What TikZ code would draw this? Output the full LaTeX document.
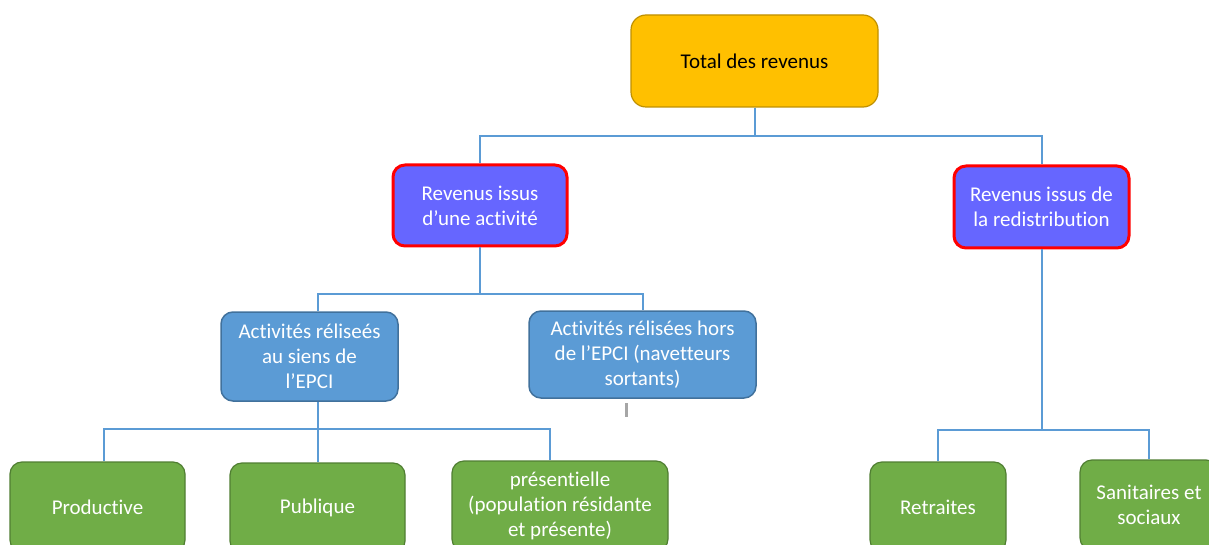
\documentclass[tikz,border=0pt]{standalone}
\usepackage{fontspec}
\setmainfont[Ligatures=NoCommon]{Carlito}
\definecolor{yfill}{HTML}{FFC000}
\definecolor{ydraw}{HTML}{BF9000}
\definecolor{pfill}{HTML}{6666FF}
\definecolor{pdraw}{HTML}{FF0000}
\definecolor{bfill}{HTML}{5B9BD5}
\definecolor{bdraw}{HTML}{41719C}
\definecolor{gfill}{HTML}{70AD47}
\definecolor{gdraw}{HTML}{507E32}
\definecolor{conncol}{HTML}{5B9BD5}
\definecolor{markcol}{HTML}{A6A6A6}
\begin{document}
\begin{tikzpicture}[x=1pt,y=-1pt,
  every node/.style={font=\fontsize{21}{25}\selectfont, align=center, inner sep=0pt},
  totbox/.style={draw=ydraw, fill=yfill, line width=1.2pt, rounded corners=15pt, text=black},
  redbox/.style={draw=pdraw, fill=pfill, line width=3pt, rounded corners=12pt, text=white},
  bluebox/.style={draw=bdraw, fill=bfill, line width=1.5pt, rounded corners=12pt, text=white},
  greenbox/.style={draw=gdraw, fill=gfill, line width=1.2pt, rounded corners=12pt, text=white},
  conn/.style={draw=conncol, line width=2pt}]
\useasboundingbox (0,0) rectangle (1209,545);
\clip (0,0) rectangle (1209,545);

\node[totbox, minimum width=247pt, minimum height=92pt] (tot) at (754.5,61) {Total des revenus};
\node[redbox, minimum width=174pt, minimum height=81pt] (act) at (480,205.5) {Revenus issus\\d’une activité};
\node[redbox, minimum width=175pt, minimum height=82pt] (red) at (1041.5,207) {Revenus issus de\\la redistribution};
\node[bluebox, minimum width=177pt, minimum height=89pt] (siens) at (309.5,356.5) {Activités réliseés\\au siens de\\l’EPCI};
\node[bluebox, minimum width=227pt, minimum height=87pt] (hors) at (642.5,354.5) {Activités rélisées hors\\de l’EPCI (navetteurs\\sortants)};
\node[greenbox, minimum width=175pt, minimum height=90pt] (prod) at (97.5,507) {Productive};
\node[greenbox, minimum width=175pt, minimum height=90pt] (pub) at (317.5,508) {Publique};
\node[greenbox, minimum width=216pt, minimum height=90pt] (pres) at (560,506) {présentielle\\(population résidante\\et présente)};
\node[greenbox, minimum width=136pt, minimum height=90pt] (ret) at (938,507) {Retraites};
\node[greenbox, minimum width=138pt, minimum height=90pt] (san) at (1149,505) {Sanitaires et\\sociaux};

\draw[conn] (tot.south) -- ++(0,28) -| (act.north);
\draw[conn] (tot.south) -- ++(0,28) -| (red.north);
\draw[conn] (act.south) -- ++(0,46) -| ([xshift=8.5pt]siens.north);
\draw[conn] (act.south) -- ++(0,46) -| (hors.north);
\draw[conn] ([xshift=8.5pt]siens.south) -- ++(0,27) -| ([xshift=6.5pt]prod.north);
\draw[conn] ([xshift=8.5pt]siens.south) -- ++(0,27) -| (pub.north);
\draw[conn] ([xshift=8.5pt]siens.south) -- ++(0,27) -| ([xshift=-10pt]pres.north);
\draw[conn] (red.south) -- ++(0,180) -| (ret.north);
\draw[conn] (red.south) -- ++(0,180) -| (san.north);

\fill[markcol] (624.5,403) rectangle (627.5,417);
\end{tikzpicture}
\end{document}
